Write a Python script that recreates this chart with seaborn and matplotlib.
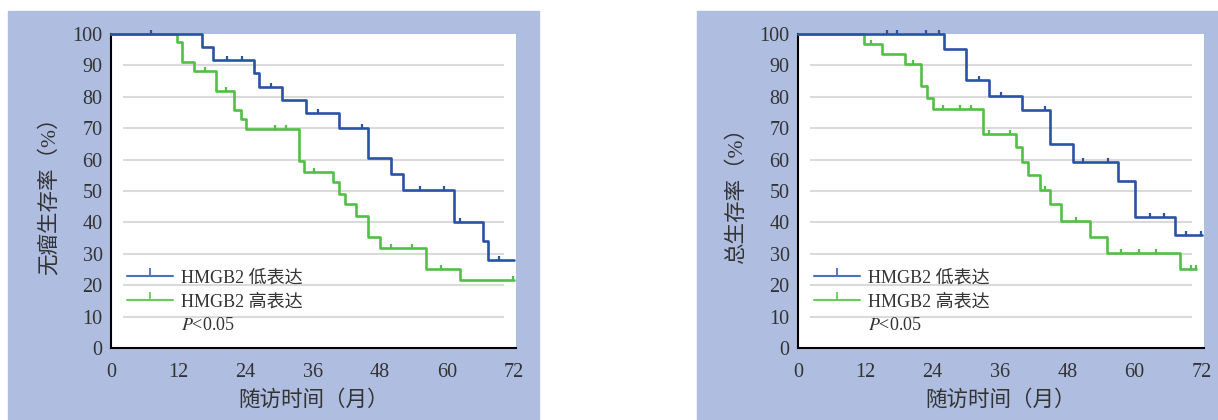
import numpy as np
import pandas as pd
import seaborn as sns
import matplotlib
matplotlib.use("Agg")
import matplotlib.pyplot as plt
from matplotlib.patches import Rectangle
from matplotlib.lines import Line2D

# ---------------- data ----------------
x_ticks = [0, 12, 24, 36, 48, 60, 72]
y_ticks = [0, 10, 20, 30, 40, 50, 60, 70, 80, 90, 100]
legend_labels = ["HMGB2 低表达", "HMGB2 高表达"]
p_text = "$P$<0.05"

# Panel A: 无瘤生存率
dfs_low_t = [0, 16.2, 18.3, 25.5, 26.4, 30.5, 34.8, 40.8, 45.9, 50.0, 52.1, 61.3, 66.5, 67.4, 72.0]
dfs_low_s = [100, 96.0, 91.7, 87.7, 83.2, 79.0, 74.7, 70.2, 60.4, 55.3, 50.3, 40.2, 34.1, 28.0, 28.0]
dfs_low_cens_t = [7.1, 20.7, 23.4, 28.5, 37.0, 44.8, 55.1, 59.5, 62.3, 69.3]
dfs_low_cens_s = [100, 91.7, 91.7, 83.2, 74.7, 70.2, 50.3, 50.3, 40.2, 28.0]

dfs_high_t = [0, 11.7, 12.7, 14.9, 18.8, 22.0, 23.2, 24.1, 33.5, 34.5, 39.7, 40.8, 41.7, 43.75, 45.9, 48.0, 56.25, 62.3, 72.0]
dfs_high_s = [100, 97.5, 91.2, 88.2, 81.9, 75.8, 72.9, 69.6, 59.4, 56.0, 52.8, 49.1, 45.8, 42.1, 35.3, 31.7, 25.1, 21.7, 21.7]
dfs_high_cens_t = [16.8, 20.6, 29.2, 31.3, 36.3, 50.0, 53.75, 58.9, 71.7]
dfs_high_cens_s = [88.2, 81.9, 69.6, 69.6, 56.0, 31.7, 31.7, 25.1, 21.7]

# Panel B: 总生存率
os_low_t = [0, 26.0, 30.0, 34.0, 40.0, 45.0, 49.1, 57.0, 60.1, 67.2, 72.0]
os_low_s = [100, 95.1, 85.3, 80.4, 75.8, 65.0, 59.3, 53.3, 41.8, 36.1, 36.1]
os_low_cens_t = [15.8, 17.7, 22.9, 25.1, 32.2, 36.2, 44.1, 50.8, 55.3, 62.7, 65.3, 69.1, 71.9]
os_low_cens_s = [100, 100, 100, 100, 85.3, 80.4, 75.8, 59.3, 59.3, 41.8, 41.8, 36.1, 36.1]

os_high_t = [0, 11.8, 15.0, 19.1, 21.9, 23.0, 24.0, 33.0, 38.9, 40.0, 41.0, 43.1, 45.0, 46.9, 52.1, 55.0, 68.1, 71.0]
os_high_s = [100, 96.8, 93.7, 90.3, 83.3, 79.6, 76.2, 68.3, 64.0, 59.2, 55.0, 50.2, 46.0, 40.5, 35.4, 30.3, 25.1, 25.1]
os_high_cens_t = [13.1, 20.5, 25.9, 28.9, 30.9, 34.0, 37.8, 44.1, 49.6, 57.5, 60.8, 63.9, 70.0, 70.9]
os_high_cens_s = [96.8, 90.3, 76.2, 76.2, 76.2, 68.3, 68.3, 50.2, 40.5, 30.3, 30.3, 30.3, 25.1, 25.1]

# ---------------- style ----------------
sns.set_theme(style="white")
plt.rcParams["font.family"] = ["Liberation Serif", "Noto Sans CJK SC"]
plt.rcParams["mathtext.fontset"] = "stix"

BG = "#aebde0"
BLUE = "#2a52a5"
GREEN = "#52bf45"
BLUE_L = "#4a70c0"
GREEN_L = "#6acb5c"
GRID = "#dadada"
TXT = "#333333"

W, H = 1218, 420
fig = plt.figure(figsize=(W / 100, H / 100), dpi=100)
fig.patch.set_facecolor("white")
fig.add_artist(Rectangle((8 / W, 0), (539 - 8) / W, (H - 11) / H,
                         transform=fig.transFigure, color=BG, zorder=0))
fig.add_artist(Rectangle((697 / W, 0), (W - 697) / W, (H - 11) / H,
                         transform=fig.transFigure, color=BG, zorder=0))


def make_axes(l, t, r, b):
    return fig.add_axes([l / W, 1 - b / H, (r - l) / W, (b - t) / H])


def draw_panel(ax, xmax, ylabel, low_t, low_s, lc_t, lc_s, high_t, high_s, hc_t, hc_s):
    ax.set_facecolor("white")
    ax.hlines(y=y_ticks[1:-1], xmin=2.1, xmax=70.2, color=GRID, lw=1.5, zorder=1)
    for t, s, ct, cs, col in [(high_t, high_s, hc_t, hc_s, GREEN),
                              (low_t, low_s, lc_t, lc_s, BLUE)]:
        df = pd.DataFrame({"t": t, "s": s})
        sns.lineplot(data=df, x="t", y="s", drawstyle="steps-post", estimator=None,
                     sort=False, color=col, lw=1.9, ax=ax, legend=False, zorder=3,
                     clip_on=False)
        dc = pd.DataFrame({"t": ct, "s": cs})
        sns.scatterplot(data=dc, x="t", y="s", marker=2, s=10, color=col,
                        linewidth=1.6, ax=ax, legend=False, zorder=4, clip_on=False)
    ax.set_xlim(0, xmax)
    ax.set_ylim(0, 100)
    ax.set_xticks(x_ticks)
    ax.set_yticks(y_ticks)
    ax.tick_params(axis="both", direction="in", length=3.8, width=1.5, color="black",
                   labelsize=14.5, labelcolor=TXT)
    ax.tick_params(axis="x", pad=11)
    ax.tick_params(axis="y", pad=6)
    sns.despine(ax=ax)
    for sp in ["left", "bottom"]:
        ax.spines[sp].set_color("black")
        ax.spines[sp].set_linewidth(1.5)
    ax.set_xlabel("随访时间（月）", fontsize=15.5, color=TXT, labelpad=6)
    ax.set_ylabel(ylabel, fontsize=15.5, color=TXT, labelpad=9)
    handles = [
        Line2D([], [], color=BLUE_L, lw=1.5, marker=2, markersize=6, markeredgewidth=1.3),
        Line2D([], [], color=GREEN_L, lw=1.5, marker=2, markersize=6, markeredgewidth=1.3),
        Line2D([], [], color="none", lw=0),
    ]
    leg = ax.legend(handles, legend_labels + [p_text], loc="upper left",
                    bbox_to_anchor=(0.04, 0.25), frameon=False, fontsize=13,
                    handlelength=2.55, handletextpad=0.45, labelspacing=0.38,
                    borderpad=0, borderaxespad=0, numpoints=1)
    for txt in leg.get_texts():
        txt.set_color(TXT)


ax1 = make_axes(111, 34, 516, 348)
draw_panel(ax1, 405 / 5.6, "无瘤生存率（%）",
           dfs_low_t, dfs_low_s, dfs_low_cens_t, dfs_low_cens_s,
           dfs_high_t, dfs_high_s, dfs_high_cens_t, dfs_high_cens_s)

ax2 = make_axes(798, 34, 1204, 348)
draw_panel(ax2, 406 / 5.61, "总生存率（%）",
           os_low_t, os_low_s, os_low_cens_t, os_low_cens_s,
           os_high_t, os_high_s, os_high_cens_t, os_high_cens_s)

fig.savefig("out.png", dpi=100, facecolor=fig.get_facecolor())
